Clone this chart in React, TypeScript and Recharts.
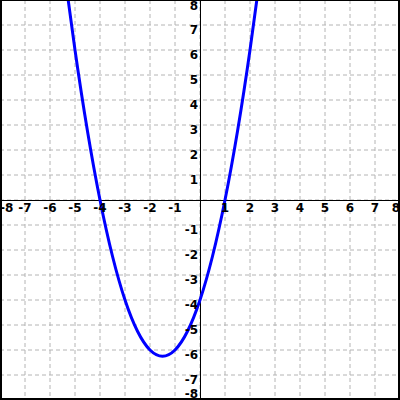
import React from "react";
import { LineChart, Line, XAxis, YAxis, CartesianGrid, ReferenceLine, ReferenceDot } from "recharts";

// points (parabola through -4 and 1, low point near -1.5)
const xs = [-5.3, -5, -4.5, -4, -3.5, -3, -2.5, -2, -1.5, -1, -0.5, 0, 0.5, 1, 1.5, 2, 2.3];
const ys = [8.2, 6, 2.75, 0, -2.25, -4, -5.25, -6, -6.25, -6, -5.25, -4, -2.25, 0, 2.75, 6, 8.2];

const xTicks = [-8, -7, -6, -5, -4, -3, -2, -1, 0, 1, 2, 3, 4, 5, 6, 7, 8];
const yTicks = [-8, -7, -6, -5, -4, -3, -2, -1, 0, 1, 2, 3, 4, 5, 6, 7, 8];
const xLabels = ["-8", "-7", "-6", "-5", "-4", "-3", "-2", "-1", "1", "2", "3", "4", "5", "6", "7", "8"];
const yLabels = ["-8", "-7", "-6", "-5", "-4", "-3", "-2", "-1", "1", "2", "3", "4", "5", "6", "7", "8"];

const data = xs.map((x, i) => ({ x, y: ys[i] }));

const labelStyle = { fontFamily: "DejaVu Sans", fontWeight: "bold" as const, fontSize: 12, fill: "#000" };

// label under the x axis at the tick
const xLabelShape = (label: string) => (p: any) => {
  let anchor: "start" | "middle" | "end" = "middle";
  if (label === "-8") anchor = "start";
  if (label === "8") anchor = "end";
  return (
    <text x={p.cx} y={p.cy + 12} textAnchor={anchor} {...labelStyle}>
      {label}
    </text>
  );
};

// label left of the y axis, just below the grid line
const yLabelShape = (label: string) => (p: any) => {
  let py = p.cy + 9;
  if (label === "8") py = p.cy + 10;
  if (label === "-8") py = p.cy - 2;
  return (
    <text x={p.cx - 2} y={py} textAnchor="end" {...labelStyle}>
      {label}
    </text>
  );
};

export default function App() {
  return (
    <div style={{ position: "absolute", left: 0, top: 0, width: 400, height: 400, background: "#fff" }}>
      <LineChart width={400} height={400} data={data} margin={{ top: 0, right: 0, bottom: 0, left: 0 }}>
        <XAxis type="number" dataKey="x" domain={[-8, 8]} ticks={xTicks} interval={0} hide allowDataOverflow />
        <YAxis type="number" domain={[-8, 8]} ticks={yTicks} interval={0} hide allowDataOverflow />
        <CartesianGrid stroke="#b4b4b4" strokeDasharray="4 3" />
        <ReferenceLine x={0} stroke="#000" strokeWidth={1} shapeRendering="crispEdges" />
        <ReferenceLine y={0} stroke="#000" strokeWidth={1} shapeRendering="crispEdges" />
        {xLabels.map((l) => (
          <ReferenceDot key={"x" + l} x={Number(l)} y={0} r={0} ifOverflow="visible" shape={xLabelShape(l)} />
        ))}
        {yLabels.map((l) => (
          <ReferenceDot key={"y" + l} x={0} y={Number(l)} r={0} ifOverflow="visible" shape={yLabelShape(l)} />
        ))}
        <Line
          type="monotone"
          dataKey="y"
          stroke="#0000ff"
          strokeWidth={3}
          dot={false}
          isAnimationActive={false}
        />
      </LineChart>
      <div
        style={{
          position: "absolute",
          inset: 0,
          borderLeft: "2px solid #000",
          borderRight: "2px solid #000",
          borderBottom: "2px solid #000",
          borderTop: "1px solid #000",
          pointerEvents: "none",
        }}
      />
    </div>
  );
}
